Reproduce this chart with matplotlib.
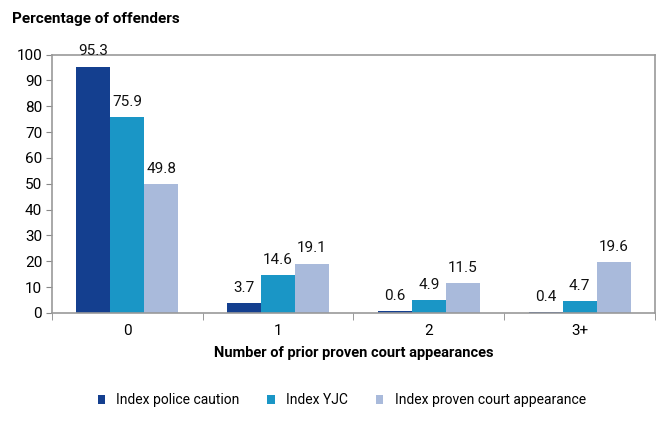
import matplotlib.pyplot as plt
import numpy as np

plt.rcParams['font.family'] = ['Roboto', 'DejaVu Sans']

categories = ["0", "1", "2", "3+"]
police_caution = [95.3, 3.7, 0.6, 0.4]
yjc = [75.9, 14.6, 4.9, 4.7]
court_appearance = [49.8, 19.1, 11.5, 19.6]

series = [
    ("Index police caution", police_caution, "#143f8f"),
    ("Index YJC", yjc, "#1a96c6"),
    ("Index proven court appearance", court_appearance, "#a9badb"),
]

fig = plt.figure(figsize=(6.57, 4.32), dpi=100)
ax = fig.add_axes([0.079, 0.2755, 0.918, 0.598])

x = np.arange(len(categories))
width = 0.225
for i, (name, vals, color) in enumerate(series):
    pos = x + (i - 1) * width
    bars = ax.bar(pos, vals, width, color=color, label=name, zorder=2)
    for b, v in zip(bars, vals):
        ax.annotate(f"{v:.1f}", (b.get_x() + b.get_width() / 2, v),
                    xytext=(0, 6), textcoords="offset points",
                    ha="center", va="bottom", fontsize=11, color="#111111")

ax.set_xlim(-0.5, len(categories) - 0.5)
ax.set_ylim(0, 100)
ax.set_yticks(range(0, 101, 10))
ax.tick_params(axis="y", labelsize=11, length=4, color="#888888", pad=3)
ax.set_xticks(x)
ax.set_xticklabels(categories, fontsize=11)
ax.tick_params(axis="x", length=0, pad=8)
ax.set_xticks(np.arange(-0.5, len(categories), 1), minor=True)
ax.tick_params(axis="x", which="minor", length=5, color="#888888")

for s in ax.spines.values():
    s.set_color("#999999")
    s.set_linewidth(1.2)

ax.set_xlabel("Number of prior proven court appearances", fontsize=10.5,
              fontweight="bold", labelpad=6)
fig.text(0.018, 0.955, "Percentage of offenders", fontsize=11,
         fontweight="bold", ha="left", va="center")

fig.legend(loc="center", bbox_to_anchor=(0.52, 0.073), ncol=3, frameon=False,
           fontsize=10, handlelength=0.55, handleheight=0.55,
           columnspacing=2.0, handletextpad=0.8)

fig.savefig("out.png", dpi=100)
